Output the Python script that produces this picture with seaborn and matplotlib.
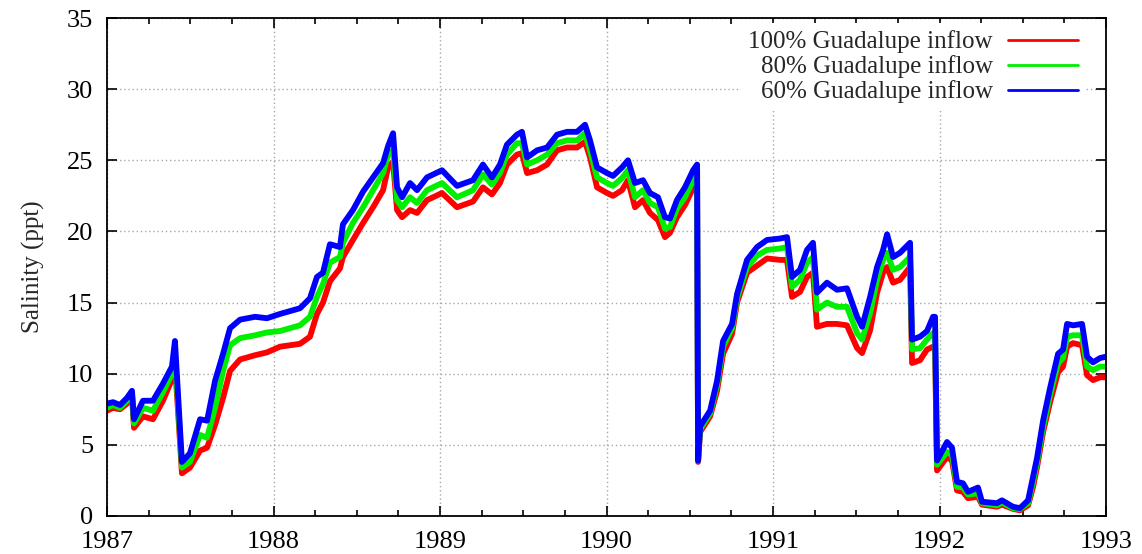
import numpy as np
import pandas as pd
import matplotlib
matplotlib.use("Agg")
import matplotlib.pyplot as plt
from matplotlib.lines import Line2D
from matplotlib.ticker import MultipleLocator
import seaborn as sns

# time in decimal years
years = [
    1987.000, 1987.036, 1987.078, 1987.120, 1987.150, 1987.162, 1987.216, 1987.276,
    1987.336, 1987.390, 1987.408, 1987.426, 1987.450, 1987.498, 1987.559, 1987.601,
    1987.649, 1987.697, 1987.739, 1987.799, 1987.889, 1987.961, 1988.039, 1988.159,
    1988.219, 1988.261, 1988.297, 1988.339, 1988.399, 1988.417, 1988.477, 1988.538,
    1988.598, 1988.658, 1988.688, 1988.718, 1988.742, 1988.772, 1988.820, 1988.862,
    1988.922, 1989.012, 1989.102, 1989.198, 1989.258, 1989.312, 1989.360, 1989.402,
    1989.462, 1989.492, 1989.523, 1989.583, 1989.643, 1989.703, 1989.763, 1989.823,
    1989.871, 1989.901, 1989.943, 1990.003, 1990.039, 1990.093, 1990.129, 1990.171,
    1990.219, 1990.261, 1990.309, 1990.351, 1990.381, 1990.423, 1990.471, 1990.520,
    1990.544, 1990.550, 1990.562, 1990.622, 1990.664, 1990.700, 1990.754, 1990.784,
    1990.844, 1990.904, 1990.964, 1991.042, 1991.084, 1991.114, 1991.162, 1991.204,
    1991.240, 1991.264, 1991.324, 1991.384, 1991.444, 1991.505, 1991.535, 1991.583,
    1991.625, 1991.661, 1991.685, 1991.721, 1991.763, 1991.823, 1991.835, 1991.883,
    1991.925, 1991.961, 1991.973, 1991.985, 1992.045, 1992.075, 1992.105, 1992.141,
    1992.171, 1992.231, 1992.255, 1992.345, 1992.375, 1992.441, 1992.483, 1992.532,
    1992.562, 1992.586, 1992.622, 1992.664, 1992.712, 1992.742, 1992.766, 1992.802,
    1992.856, 1992.886, 1992.922, 1992.964, 1993.000,
]

sal_100 = [
    7.4, 7.6, 7.5, 7.9, 8.4, 6.2, 7.0, 6.8,
    8.1, 9.6, 10.7, 7.5, 3.0, 3.4, 4.6, 4.8,
    6.4, 8.3, 10.2, 11.0, 11.3, 11.5, 11.9, 12.1,
    12.6, 14.2, 15.0, 16.5, 17.4, 18.2, 19.4, 20.6,
    21.7, 22.9, 24.5, 24.9, 21.5, 21.0, 21.5, 21.3,
    22.2, 22.7, 21.7, 22.1, 23.1, 22.6, 23.4, 24.7,
    25.4, 25.5, 24.1, 24.3, 24.7, 25.7, 25.9, 25.9,
    26.3, 25.2, 23.1, 22.7, 22.5, 22.9, 23.6, 21.7,
    22.2, 21.3, 20.8, 19.6, 19.9, 21.0, 21.85, 23.05,
    23.4, 3.8, 5.9, 7.0, 8.8, 11.4, 12.8, 15.0,
    17.1, 17.6, 18.1, 18.0, 18.0, 15.4, 15.75, 16.8,
    17.1, 13.3, 13.5, 13.5, 13.4, 11.8, 11.45, 13.05,
    15.7, 17.1, 17.5, 16.4, 16.6, 17.5, 10.75, 10.95,
    11.7, 11.9, 11.9, 3.2, 4.15, 3.9, 1.8, 1.7,
    1.25, 1.35, 0.8, 0.65, 0.8, 0.5, 0.4, 0.75,
    2.05, 3.45, 5.9, 8.0, 10.1, 10.5, 11.9, 12.15,
    12.0, 9.9, 9.55, 9.75, 9.75,
]

sal_80 = [
    7.6, 7.8, 7.6, 8.1, 8.6, 6.5, 7.6, 7.4,
    8.7, 10.0, 11.4, 8.0, 3.4, 3.8, 5.7, 5.5,
    7.6, 10.2, 12.0, 12.5, 12.7, 12.9, 13.0, 13.4,
    14.0, 15.4, 16.3, 17.8, 18.2, 19.2, 20.6, 21.7,
    22.9, 24.1, 25.4, 25.7, 22.2, 21.7, 22.4, 22.0,
    22.9, 23.4, 22.4, 22.9, 24.0, 23.3, 24.1, 25.4,
    26.2, 26.2, 24.7, 25.0, 25.4, 26.2, 26.4, 26.4,
    26.9, 25.7, 23.8, 23.4, 23.2, 23.75, 24.3, 22.4,
    22.9, 22.0, 21.7, 20.2, 20.3, 21.6, 22.4, 23.6,
    24.1, 3.9, 6.1, 7.2, 9.2, 11.9, 13.2, 15.3,
    17.5, 18.3, 18.7, 18.8, 18.9, 16.1, 16.6, 17.8,
    18.2, 14.5, 15.0, 14.7, 14.7, 12.85, 12.4, 14.25,
    16.6, 18.0, 18.5, 17.3, 17.5, 18.2, 11.7, 11.8,
    12.4, 12.85, 12.85, 3.6, 4.5, 4.3, 2.05, 2.0,
    1.5, 1.6, 0.9, 0.75, 0.95, 0.55, 0.5, 0.9,
    2.4, 3.8, 6.25, 8.5, 10.75, 11.1, 12.6, 12.7,
    12.7, 10.5, 10.25, 10.5, 10.5,
]

sal_60 = [
    7.9, 8.0, 7.8, 8.3, 8.8, 6.8, 8.1, 8.1,
    9.3, 10.5, 12.3, 8.6, 3.8, 4.4, 6.8, 6.7,
    9.5, 11.4, 13.2, 13.8, 14.0, 13.9, 14.2, 14.6,
    15.3, 16.8, 17.1, 19.1, 18.9, 20.5, 21.5, 22.8,
    23.8, 24.8, 26.0, 26.9, 23.1, 22.4, 23.4, 22.9,
    23.8, 24.3, 23.2, 23.6, 24.7, 23.8, 24.7, 26.1,
    26.8, 27.0, 25.2, 25.7, 25.9, 26.8, 27.0, 27.0,
    27.5, 26.4, 24.5, 24.1, 23.9, 24.5, 25.0, 23.4,
    23.6, 22.7, 22.4, 21.0, 20.9, 22.2, 23.1, 24.3,
    24.7, 3.9, 6.3, 7.4, 9.5, 12.3, 13.5, 15.6,
    18.0, 18.9, 19.4, 19.5, 19.6, 16.8, 17.3, 18.7,
    19.2, 15.7, 16.4, 15.9, 16.0, 14.0, 13.3, 15.4,
    17.5, 18.7, 19.8, 18.2, 18.5, 19.2, 12.4, 12.6,
    13.0, 14.0, 14.0, 3.9, 5.2, 4.8, 2.4, 2.3,
    1.7, 2.0, 1.0, 0.9, 1.1, 0.65, 0.55, 1.1,
    2.75, 4.1, 6.7, 9.0, 11.4, 11.7, 13.5, 13.4,
    13.5, 11.2, 10.8, 11.1, 11.2,
]

labels = ["100% Guadalupe inflow", "80% Guadalupe inflow", "60% Guadalupe inflow"]
colors = ["#ff0000", "#00ee00", "#0000ff"]

df = pd.concat([
    pd.DataFrame({"year": years, "salinity": s, "run": lab})
    for s, lab in zip([sal_100, sal_80, sal_60], labels)
], ignore_index=True)

sns.set_style("ticks")
plt.rcParams["font.family"] = ["Liberation Serif", "DejaVu Serif"]
plt.rcParams["font.size"] = 18

fig = plt.figure(figsize=(11.42, 5.54), dpi=100)
ax = fig.add_axes([0.0937, 0.0686, 0.8748, 0.8989])

sns.lineplot(data=df, x="year", y="salinity", hue="run", hue_order=labels,
             palette=colors, estimator=None, sort=False, linewidth=4.2,
             legend=False, ax=ax)

ax.set_xlim(1987, 1993)
ax.set_ylim(0, 35)
ax.xaxis.set_major_locator(MultipleLocator(1))
ax.xaxis.set_minor_locator(MultipleLocator(0.25))
ax.yaxis.set_major_locator(MultipleLocator(5))
ax.xaxis.set_major_formatter(matplotlib.ticker.FuncFormatter(lambda v, p: f"{int(round(v))}"))

ax.grid(True, which="major", color="#a8a8a8", linestyle=(0, (1, 2)), linewidth=1)
ax.set_axisbelow(True)

ax.tick_params(which="both", direction="in", top=True, right=True, colors="black")
ax.tick_params(axis="x", which="major", length=7, width=1.2, pad=11, labelsize=19)
ax.tick_params(axis="y", which="major", length=7, width=1.2, pad=10, labelsize=19)
ax.tick_params(which="minor", length=4, width=1.2)
for sp in ax.spines.values():
    sp.set_linewidth(1.3)
    sp.set_color("black")

ax.set_xlabel("")
ax.set_ylabel("Salinity (ppt)", fontsize=18, labelpad=16)

handles = [Line2D([0], [0], color=c, lw=2) for c in colors]
leg = ax.legend(handles, labels, loc="upper right", bbox_to_anchor=(0.979, 0.99),
                markerfirst=False, frameon=True, fancybox=False, framealpha=1,
                facecolor="white", edgecolor="none", fontsize=18,
                handlelength=2.8, handletextpad=0.6, labelspacing=0.08,
                borderpad=0.3, borderaxespad=0)
leg.set_zorder(5)

fig.savefig("out.png", dpi=100)
